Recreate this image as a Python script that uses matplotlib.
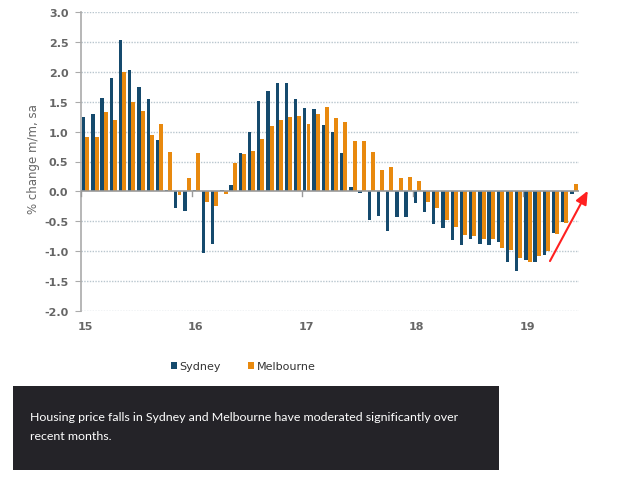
import numpy as np
import matplotlib
matplotlib.use("Agg")
from matplotlib import pyplot as plt
from matplotlib.patches import Rectangle

# monthly % change, Jan 2015 .. Jun 2019
sydney = [1.25, 1.29, 1.57, 1.90, 2.54, 2.03, 1.74, 1.54, 0.86, 0.02, -0.27, -0.32,
          0.03, -1.03, -0.88, 0.03, 0.10, 0.64, 1.00, 1.52, 1.68, 1.82, 1.82, 1.54,
          1.40, 1.38, 1.11, 1.00, 0.65, 0.08, -0.03, -0.48, -0.41, -0.67, -0.42, -0.42,
          -0.20, -0.34, -0.54, -0.61, -0.81, -0.90, -0.80, -0.88, -0.90, -0.85, -1.18, -1.33,
          -1.15, -1.18, -1.06, -0.70, -0.52, -0.05]
melbourne = [0.91, 0.91, 1.33, 1.19, 2.00, 1.50, 1.34, 0.95, 1.13, 0.66, -0.06, 0.22,
             0.64, -0.17, -0.25, -0.05, 0.48, 0.62, 0.67, 0.87, 1.09, 1.20, 1.25, 1.26,
             1.12, 1.30, 1.41, 1.22, 1.16, 0.84, 0.85, 0.66, 0.35, 0.41, 0.23, 0.24,
             0.18, -0.17, -0.27, -0.47, -0.59, -0.73, -0.74, -0.79, -0.79, -0.95, -0.98, -1.11,
             -1.18, -1.08, -0.99, -0.72, -0.53, 0.12]
year_labels = ['15', '16', '17', '18', '19']
y_ticks = [3.0, 2.5, 2.0, 1.5, 1.0, 0.5, 0.0, -0.5, -1.0, -1.5, -2.0]
caption = ("Housing price falls in Sydney and Melbourne have moderated significantly over\n"
           "recent months.")

syd_col = '#154a6d'
mel_col = '#e8890e'
grey = '#666666'

fig = plt.figure(figsize=(6.26, 4.89), dpi=100)
ax = fig.add_axes([81 / 626, 1 - 312 / 489, 498 / 626, 299 / 489])

x = np.arange(len(sydney))
ax.bar(x + 0.29, sydney, width=0.36, color=syd_col, label='Sydney', zorder=3)
ax.bar(x + 0.69, melbourne, width=0.43, color=mel_col, label='Melbourne', zorder=3)

ax.set_xlim(0, 54.05)
ax.set_ylim(-2.0, 3.0)

# dotted grid, solid zero line
for v in y_ticks:
    if v == 0:
        continue
    ax.axhline(v, color='#b9c6ce', lw=1.0, ls=(0, (1, 1)), zorder=1)
ax.axhline(0, color='#9a9a9a', lw=1.2, zorder=4)

for s in ['top', 'right']:
    ax.spines[s].set_visible(False)
ax.spines['bottom'].set_visible(False)
ax.spines['left'].set_color('#aaaaaa')
ax.spines['left'].set_linewidth(1.2)

ax.set_yticks(y_ticks)
ax.set_yticklabels(['%.1f' % v for v in y_ticks])
ax.tick_params(axis='y', length=4, color='#aaaaaa', labelsize=8, labelcolor=grey, pad=5)
for lab in ax.get_yticklabels():
    lab.set_fontweight('bold')

# year ticks on the zero line, labels under the plot
years = np.arange(0, 60, 12)
ax.set_xticks([])
for yr, lab in zip(years, year_labels):
    ax.plot([yr, yr], [0, -0.07], color='#9a9a9a', lw=1, zorder=4, clip_on=False)
    ax.annotate(lab, (yr + 0.45, -2.0), xytext=(0, -7), textcoords='offset points',
                ha='center', va='top', fontsize=8, fontweight='bold', color=grey,
                annotation_clip=False)

ax.set_ylabel('% change m/m, sa', fontsize=8.5, color=grey)
ax.yaxis.set_label_coords(-0.082, 0.51)

# red arrow
ax.annotate('', xy=(55.0, 0.01), xytext=(50.9, -1.165),
            arrowprops=dict(arrowstyle='-|>,head_length=0.8,head_width=0.35',
                            color='#ff2020', lw=1.5, shrinkA=0, shrinkB=0),
            annotation_clip=False, zorder=5)

fig.legend(loc='center', bbox_to_anchor=(243 / 626, 1 - 367 / 489), ncol=2,
           frameon=False, fontsize=8, handlelength=0.6, handleheight=0.6,
           handletextpad=0.2, columnspacing=2.4, labelcolor='#333333')

# caption panel
fig.patches.append(Rectangle((13 / 626, 1 - 471 / 489), 486 / 626, 84 / 489,
                             transform=fig.transFigure, facecolor='#242328',
                             edgecolor='none'))
fig.text(30 / 626, 1 - 412 / 489, caption, color='white', fontsize=8.9,
         family=['Lato', 'DejaVu Sans'], va='top', ha='left', linespacing=1.85)

fig.savefig('out.png', dpi=100)
